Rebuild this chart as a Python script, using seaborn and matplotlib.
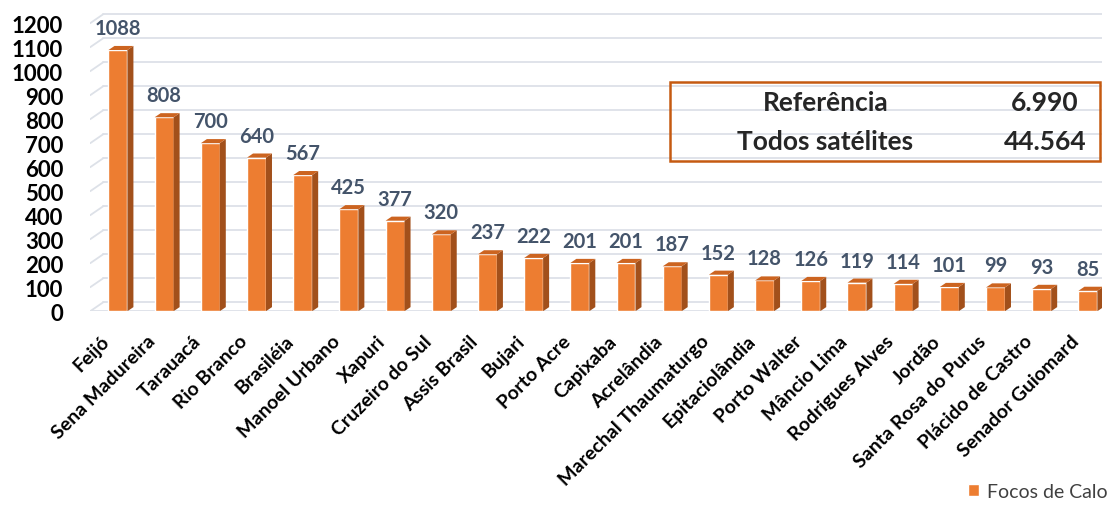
import numpy as np
import matplotlib
matplotlib.use("Agg")
import matplotlib.pyplot as plt
import matplotlib.transforms as mtrans
import seaborn as sns
from matplotlib.patches import Polygon, Rectangle

sns.set_style("white")
plt.rcParams['font.family'] = ['Lato', 'DejaVu Sans']

cities = ['Feijó', 'Sena Madureira', 'Tarauacá', 'Rio Branco', 'Brasiléia',
          'Manoel Urbano', 'Xapuri', 'Cruzeiro do Sul', 'Assis Brasil', 'Bujari',
          'Porto Acre', 'Capixaba', 'Acrelândia', 'Marechal Thaumaturgo',
          'Epitaciolândia', 'Porto Walter', 'Mâncio Lima', 'Rodrigues Alves',
          'Jordão', 'Santa Rosa do Purus', 'Plácido de Castro', 'Senador Guiomard']
focos = [1088, 808, 700, 640, 567, 425, 377, 320, 237, 222, 201, 201, 187, 152,
         128, 126, 119, 114, 101, 99, 93, 85]
y_ticks = list(range(0, 1300, 100))
table_rows = [('Referência', '6.990'), ('Todos satélites', '44.564')]
series_name = 'Focos de Calo'

front = '#ED7D31'
side = '#A2501B'
top = '#CC6420'
grid_c = '#DDE1E8'

fig = plt.figure(figsize=(11.14, 5.06), dpi=100)
ax = fig.add_axes([0.081, 0.383, 0.908, 0.593])

# back wall gridlines (3D look)
gdx, gdz = 0.28, 37
for v in y_ticks:
    ax.plot([-0.6 + gdx, 21.3], [v + gdz, v + gdz], color=grid_c, lw=1.3, zorder=0)
    ax.plot([-0.6, -0.6 + gdx], [v, v + gdz], color=grid_c, lw=1.3, zorder=0)
ax.plot([-0.6, 21.3 - gdx], [0, 0], color=grid_c, lw=1.3, zorder=0)
ax.plot([21.3 - gdx, 21.3], [0, gdz], color=grid_c, lw=1.3, zorder=0)

sns.barplot(x=cities, y=focos, color=front, width=0.41, ax=ax,
            label=series_name, zorder=3, saturation=1)

bdx, bdz = 0.13, 17
for p, val in zip(ax.patches, focos):
    x0 = p.get_x()
    x1 = x0 + p.get_width()
    h = p.get_height()
    ax.add_patch(Polygon([(x1, 0), (x1 + bdx, bdz), (x1 + bdx, h + bdz), (x1, h)],
                         closed=True, color=side, zorder=3, lw=0))
    ax.add_patch(Polygon([(x0, h), (x1, h), (x1 + bdx, h + bdz), (x0 + bdx, h + bdz)],
                         closed=True, color=top, zorder=3, lw=0))
    ax.text(x0 + p.get_width() / 2, h + 50, str(val), ha='center', va='bottom',
            fontsize=14.5, fontweight='bold', color='#44546A')

ax.set_xlim(-0.6, 21.3)
ax.set_ylim(0, 1250)
ax.set_yticks(y_ticks)
ax.set_yticklabels([str(v) for v in y_ticks], fontsize=16, fontweight='bold', color='black')
ax.tick_params(axis='y', pad=19.5, length=0)
ax.tick_params(axis='x', length=0, pad=15)
ax.set_xticks(range(len(cities)))
ax.set_xticklabels(cities, rotation=45, ha='right', rotation_mode='anchor',
                   fontsize=14, fontweight='bold', color='black')
offset = mtrans.ScaledTranslation(-18 / 100, 0, fig.dpi_scale_trans)
for lab in ax.get_xticklabels():
    lab.set_transform(lab.get_transform() + offset)
sns.despine(ax=ax, left=True, bottom=True)
ax.set_xlabel('')
ax.set_ylabel('')
if ax.get_legend():
    ax.get_legend().remove()

# summary table
fig.patches.append(Rectangle((0.601, 0.680), 0.386, 0.156, transform=fig.transFigure,
                             fill=False, edgecolor='#C55A11', lw=1.8, zorder=5))
for (name, num), yy in zip(table_rows, [0.796, 0.719]):
    fig.text(0.741, yy, name, ha='center', va='center', fontsize=19, fontweight='bold')
    fig.text(0.938, yy, num, ha='center', va='center', fontsize=19, fontweight='bold')

handles, labels = ax.get_legend_handles_labels()
fig.legend(handles[:1], [series_name], loc='lower right', bbox_to_anchor=(1.01, -0.025),
           frameon=False, fontsize=14, handlelength=0.6, handleheight=0.6,
           handletextpad=0.4, labelcolor='#404040')

fig.savefig('out.png', dpi=100)
